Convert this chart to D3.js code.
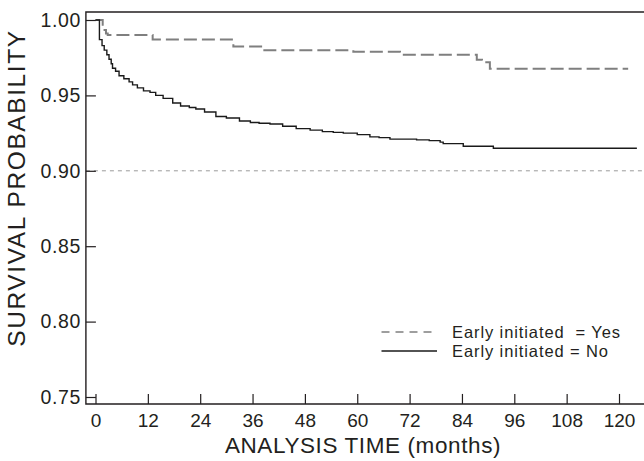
<!DOCTYPE html>
<html>
<head>
<meta charset="utf-8">
<script src="https://cdn.jsdelivr.net/npm/d3@7"></script>
<style>
  body { margin: 0; background: #fff; }
  svg text { font-family: "Liberation Sans", Arial, sans-serif; fill: #231f20; }
</style>
</head>
<body>
<div id="drawing-area"></div>
<script>
// Kaplan-Meier steps (months, survival probability)
var noTimes = [0, 0.9, 1.5, 2.0, 2.6, 3.1, 3.6, 3.9, 4.6, 5.4, 6.5, 7.7, 8.5, 9.6, 11, 12.5, 13.8, 15.5, 17.7, 19.5,
  21.5, 23, 25, 27.6, 30, 33, 35.5, 37.5, 40, 42.9, 46, 49.2, 52, 54.5, 56.8, 60, 62.9, 65, 67.5, 73.6,
  76.5, 79, 79.7, 84.3, 91.2, 124.1];
var noSurv = [1.000, 0.987, 0.983, 0.980, 0.977, 0.974, 0.971, 0.968, 0.966, 0.963, 0.961, 0.959, 0.957, 0.955, 0.953, 0.952, 0.950, 0.948, 0.945, 0.943,
  0.942, 0.941, 0.939, 0.936, 0.935, 0.933, 0.932, 0.9315, 0.931, 0.9295, 0.928, 0.927, 0.926, 0.9255, 0.925, 0.924, 0.9225, 0.922, 0.921, 0.9205,
  0.920, 0.919, 0.918, 0.9163, 0.915, 0.915];

var yesTimes = [0, 1.65, 2.4, 2.8, 13.1, 31.6, 38.2, 59.1, 69.8, 87.4, 88.6, 90.4, 122.1];
var yesSurv = [1.000, 0.9934, 0.991, 0.990, 0.987, 0.9825, 0.980, 0.979, 0.977, 0.9736, 0.972, 0.9676, 0.9676];

var xTicks = [0, 12, 24, 36, 48, 60, 72, 84, 96, 108, 120];
var yTicks = [0.75, 0.80, 0.85, 0.90, 0.95, 1.00];
var refLine = 0.90;
var legendLabels = ['Early initiated  = Yes', 'Early initiated = No'];

var width = 644, height = 461;
var x = d3.scaleLinear().domain([0, 120]).range([95.5, 619]);
var y = d3.scaleLinear().domain([0.75, 1.00]).range([397, 20]);
var plotLeft = x(-2.2), plotRight = width, plotTop = y(1.0053), plotBottom = y(0.7454);

var svg = d3.select('#drawing-area').append('svg')
  .attr('width', width)
  .attr('height', height);

// reference line at 0.90
svg.append('line')
  .attr('x1', plotLeft).attr('x2', plotRight)
  .attr('y1', y(refLine)).attr('y2', y(refLine))
  .attr('stroke', '#9a9a9a').attr('stroke-width', 1)
  .attr('stroke-dasharray', '4,4');

function toPoints(ts, ss) {
  return ts.map(function (t, i) { return [t, ss[i]]; });
}
var line = d3.line()
  .x(function (d) { return x(d[0]); })
  .y(function (d) { return y(d[1]); })
  .curve(d3.curveStepAfter);

svg.append('path')
  .datum(toPoints(yesTimes, yesSurv))
  .attr('d', line)
  .attr('fill', 'none')
  .attr('stroke', '#7f7f7f').attr('stroke-width', 2)
  .attr('stroke-dasharray', '13,5');

svg.append('path')
  .datum(toPoints(noTimes, noSurv))
  .attr('d', line)
  .attr('fill', 'none')
  .attr('stroke', '#1a1a1a').attr('stroke-width', 1.4);

// axes, ticks point inward
var yAxis = svg.append('g')
  .attr('transform', 'translate(' + plotLeft + ',0)')
  .call(d3.axisLeft(y).tickValues(yTicks).tickFormat(d3.format('.2f')).tickSize(-10).tickPadding(5));
yAxis.selectAll('text').style('font-size', '19.5px').style('letter-spacing', '0.6px');

var xAxis = svg.append('g')
  .attr('transform', 'translate(0,' + plotBottom + ')')
  .call(d3.axisBottom(x).tickValues(xTicks).tickFormat(d3.format('d')).tickSize(-10).tickPadding(10));
xAxis.selectAll('text').style('font-size', '19px');

svg.selectAll('.domain').remove();
svg.selectAll('.tick line').attr('stroke', '#231f20').attr('stroke-width', 1.2);

// frame: left, top, bottom
svg.append('path')
  .attr('d', 'M' + plotRight + ',' + plotTop + 'H' + plotLeft + 'V' + plotBottom + 'H' + plotRight)
  .attr('fill', 'none').attr('stroke', '#231f20').attr('stroke-width', 1.4);

// axis titles
svg.append('text')
  .attr('x', 363).attr('y', 453)
  .attr('text-anchor', 'middle')
  .style('font-size', '22.5px').style('letter-spacing', '0.6px')
  .text('ANALYSIS TIME (months)');

svg.append('text')
  .attr('transform', 'translate(25,188) rotate(-90)')
  .attr('text-anchor', 'middle')
  .style('font-size', '24.5px').style('letter-spacing', '1.6px')
  .text('SURVIVAL PROBABILITY');

// legend
var legend = svg.append('g');
var rows = [
  { label: legendLabels[0], y: 332, color: '#7f7f7f', dash: '8,6', w: 1.6 },
  { label: legendLabels[1], y: 351, color: '#1a1a1a', dash: null, w: 1.3 }
];
rows.forEach(function (r) {
  legend.append('line')
    .attr('x1', 381.5).attr('x2', 437)
    .attr('y1', r.y).attr('y2', r.y)
    .attr('stroke', r.color).attr('stroke-width', r.w)
    .attr('stroke-dasharray', r.dash);
  legend.append('text')
    .attr('x', 452).attr('y', r.y + 5.5)
    .style('font-size', '16.5px').style('letter-spacing', '0.9px')
    .style('white-space', 'pre')
    .text(r.label);
});
</script>
</body>
</html>
